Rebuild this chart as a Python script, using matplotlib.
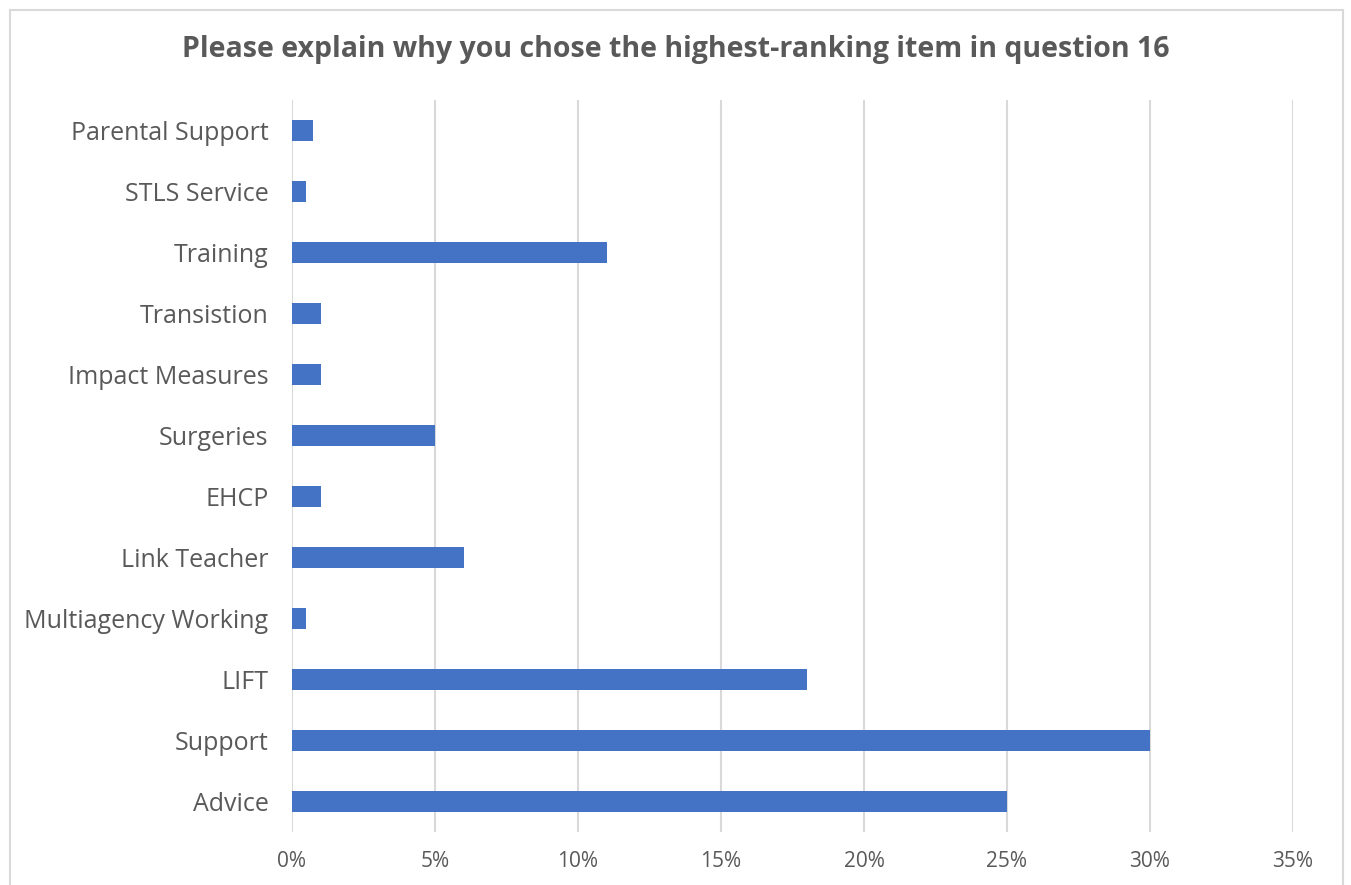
import matplotlib
matplotlib.use('Agg')
from matplotlib import pyplot as plt
from matplotlib.patches import Rectangle
from matplotlib.ticker import PercentFormatter
import numpy as np

categories = ['Advice', 'Support', 'LIFT', 'Multiagency Working', 'Link Teacher', 'EHCP',
              'Surgeries', 'Impact Measures', 'Transistion', 'Training', 'STLS Service',
              'Parental Support']
values = [25, 30, 18, 0.5, 6, 1, 5, 1, 1, 11, 0.5, 0.75]
ticks = [0, 5, 10, 15, 20, 25, 30, 35]

plt.rcParams['font.family'] = ['Open Sans', 'DejaVu Sans']
text_color = '#595959'
grid_color = '#d9d9d9'

fig = plt.figure(figsize=(13.51, 8.85), dpi=100)
fig.patches.append(Rectangle((10 / 1351, -0.01), 1333 / 1351, 1 - 10 / 885 + 0.01,
                             transform=fig.transFigure, fill=False,
                             edgecolor=grid_color, linewidth=1.5))
ax = fig.add_axes([292 / 1351, 1 - 832 / 885, (1293 - 292) / 1351, (832 - 100) / 885])

y = np.arange(len(categories))
ax.barh(y, values, height=0.36, color='#4472c4', zorder=3)

ax.set_xlim(0, 35)
ax.set_ylim(-0.5, len(categories) - 0.5)
ax.set_xticks(ticks)
ax.xaxis.set_major_formatter(PercentFormatter(decimals=0))
ax.set_yticks(y)
ax.set_yticklabels(categories)
ax.grid(axis='x', color=grid_color, linewidth=1.5, zorder=0)
for side in ['top', 'right', 'bottom', 'left']:
    ax.spines[side].set_visible(False)
ax.tick_params(axis='both', length=0, colors=text_color)
ax.tick_params(axis='x', pad=14, labelsize=15)
ax.tick_params(axis='y', pad=17, labelsize=18)

fig.text(0.5, 1 - 50 / 885, 'Please explain why you chose the highest-ranking item in question 16',
         ha='center', va='center', fontsize=20.5, fontweight='bold', color=text_color)

fig.savefig('out.png', dpi=100)
